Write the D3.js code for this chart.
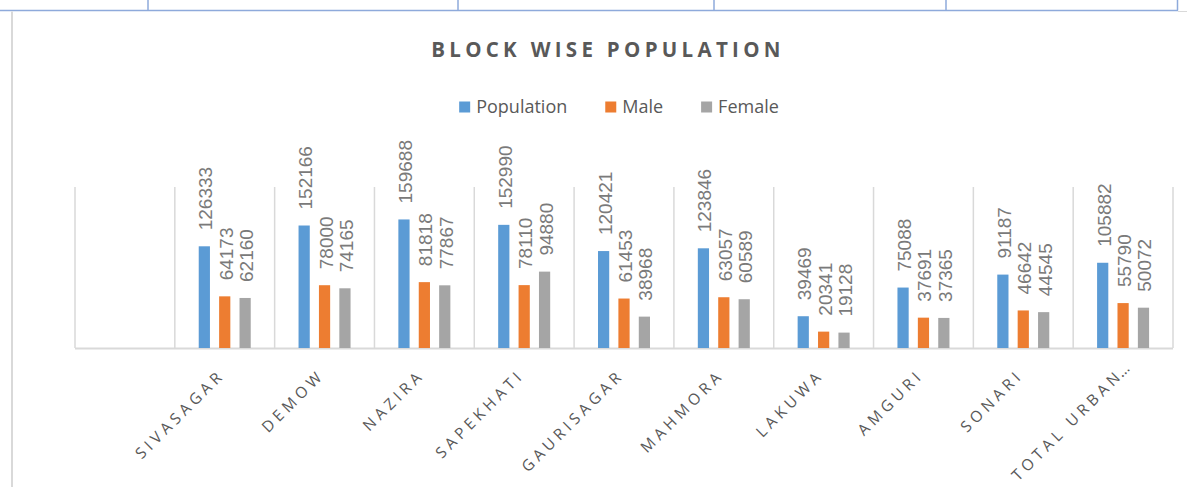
<!DOCTYPE html>
<html>
<head>
<meta charset="utf-8">
<script src="https://cdn.jsdelivr.net/npm/d3@7"></script>
<style>
  body { margin: 0; background: #fff; }
  svg { display: block; font-family: "Open Sans", sans-serif; }
</style>
</head>
<body>
<svg id="chart"></svg>
<script>
// data
const categories = ["", "SIVASAGAR", "DEMOW", "NAZIRA", "SAPEKHATI", "GAURISAGAR", "MAHMORA", "LAKUWA", "AMGURI", "SONARI", "TOTAL URBAN…"];
const series = ["Population", "Male", "Female"];
const population = [null, 126333, 152166, 159688, 152990, 120421, 123846, 39469, 75088, 91187, 105882];
const male       = [null, 64173, 78000, 81818, 78110, 61453, 63057, 20341, 37691, 46642, 55790];
const female     = [null, 62160, 74165, 77867, 94880, 38968, 60589, 19128, 37365, 44545, 50072];
const colors = ["#5b9bd5", "#ed7d31", "#a5a5a5"];
const yMax = 200000;

class GroupedBarChart {
  constructor(config, data) {
    this.config = {
      parent: config.parent,
      width: config.width || 1187,
      height: config.height || 487,
      margin: config.margin || {top: 187, right: 14, bottom: 139, left: 75},
      title: config.title || ""
    };
    this.data = data;
    this.init();
  }

  init() {
    let self = this;
    self.svg = d3.select(self.config.parent)
      .attr('width', self.config.width)
      .attr('height', self.config.height);

    // page frame bits around the chart
    const frame = self.svg.append('g');
    frame.append('line').attr('x1', 0).attr('x2', 1178).attr('y1', 10.5).attr('y2', 10.5)
      .attr('stroke', '#8eaadb').attr('stroke-width', 1.5);
    [148, 458, 714, 946, 1177.5].forEach(x => frame.append('line')
      .attr('x1', x).attr('x2', x).attr('y1', 0).attr('y2', 10.5)
      .attr('stroke', '#8eaadb').attr('stroke-width', 1.5));
    frame.append('line').attr('x1', 12).attr('x2', 12).attr('y1', 11.5).attr('y2', self.config.height)
      .attr('stroke', '#d9d9d9').attr('stroke-width', 2);
    frame.append('line').attr('x1', 1178).attr('x2', self.config.width).attr('y1', 11.5).attr('y2', 11.5)
      .attr('stroke', '#d9d9d9').attr('stroke-width', 1);

    self.inner_width = self.config.width - self.config.margin.left - self.config.margin.right;
    self.inner_height = self.config.height - self.config.margin.top - self.config.margin.bottom;

    self.chart = self.svg.append('g')
      .attr('transform', `translate(${self.config.margin.left}, ${self.config.margin.top})`);

    self.x0 = d3.scaleBand()
      .domain(categories)
      .range([0, self.inner_width])
      .paddingInner(0).paddingOuter(0);

    self.groupWidth = 52;
    self.x1 = d3.scaleBand()
      .domain(series)
      .range([0, self.groupWidth])
      .paddingInner(0.45);

    self.yscale = d3.scaleLinear()
      .domain([0, yMax])
      .range([self.inner_height, 0]);

    // title
    self.svg.append('text')
      .attr('x', 608)
      .attr('y', 56.5)
      .attr('text-anchor', 'middle')
      .attr('font-size', '20.5px')
      .attr('font-weight', 'bold')
      .attr('letter-spacing', '4.3px')
      .attr('fill', '#595959')
      .text(self.config.title);

    // legend
    const legend = self.svg.append('g');
    let lx = 0;
    const items = [];
    series.forEach((s, i) => {
      const g = legend.append('g');
      g.append('rect').attr('x', 0).attr('y', -11).attr('width', 11).attr('height', 11)
        .attr('fill', colors[i]);
      const t = g.append('text').attr('x', 17).attr('y', 0)
        .attr('font-size', '18px').attr('fill', '#595959').text(s);
      items.push({g: g, x: lx});
      lx += 17 + t.node().getComputedTextLength() + 38;
    });
    const total = lx - 38;
    const start = 619 - total / 2;
    items.forEach(it => it.g.attr('transform', `translate(${start + it.x}, 112.5)`));
  }

  render() {
    let self = this;
    const bw = self.x0.bandwidth();

    // category separators
    const edges = categories.map(c => self.x0(c)).concat([self.inner_width]);
    self.chart.selectAll('line.grid')
      .data(edges)
      .join('line')
      .attr('class', 'grid')
      .attr('x1', d => d).attr('x2', d => d)
      .attr('y1', self.yscale(yMax)).attr('y2', self.inner_height)
      .attr('stroke', '#d9d9d9').attr('stroke-width', 1.5);

    self.chart.append('line')
      .attr('x1', 0).attr('x2', self.inner_width)
      .attr('y1', self.inner_height + 0.5).attr('y2', self.inner_height + 0.5)
      .attr('stroke', '#d9d9d9').attr('stroke-width', 2);

    const rows = [];
    categories.forEach((c, ci) => {
      series.forEach((s, si) => {
        const v = self.data[si][ci];
        if (v != null) rows.push({cat: c, s: s, i: si, v: v});
      });
    });
    const bx = d => self.x0(d.cat) + (bw - self.groupWidth) / 2 + self.x1(d.s);

    self.chart.selectAll('rect.bar')
      .data(rows)
      .join('rect')
      .attr('class', 'bar')
      .attr('x', bx)
      .attr('y', d => self.yscale(d.v))
      .attr('width', self.x1.bandwidth())
      .attr('height', d => self.inner_height - self.yscale(d.v))
      .attr('fill', d => colors[d.i]);

    self.chart.selectAll('text.val')
      .data(rows)
      .join('text')
      .attr('class', 'val')
      .attr('transform', d => `translate(${bx(d) + self.x1.bandwidth() / 2 + 8}, ${self.yscale(d.v) - 16}) rotate(-90)`)
      .attr('font-family', '"Liberation Sans", Arial, sans-serif')
      .attr('font-size', '19px')
      .attr('fill', '#7a7a7a')
      .text(d => d.v);

    // rotated category labels
    const labels = self.chart.selectAll('g.xlab')
      .data(categories.filter(c => c !== ""))
      .join('g')
      .attr('class', 'xlab')
      .attr('transform', d => `translate(${self.x0(d) + bw / 2 + 1}, ${self.inner_height + 28}) rotate(-45)`);
    labels.append('text')
      .attr('text-anchor', 'end')
      .attr('font-size', '15.5px')
      .attr('letter-spacing', '4.2px')
      .attr('fill', '#595959')
      .text(d => d.replace('…', ''));
    labels.filter(d => d.endsWith('…')).append('text')
      .attr('x', -3)
      .attr('font-size', '15.5px')
      .attr('fill', '#595959')
      .text('…');
  }
}

const chart = new GroupedBarChart({
  parent: '#chart',
  width: 1187,
  height: 487,
  title: 'BLOCK WISE POPULATION'
}, [population, male, female]);
chart.render();
</script>
</body>
</html>
